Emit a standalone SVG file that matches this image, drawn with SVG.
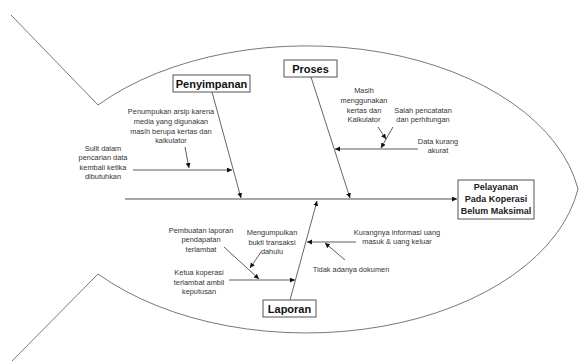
<svg xmlns="http://www.w3.org/2000/svg" width="579" height="361" viewBox="0 0 579 361">
<style>
.outline{fill:none;stroke:#555;stroke-width:0.8}
.bone{fill:none;stroke:#555;stroke-width:0.9}
.spine{fill:none;stroke:#8a8a8a;stroke-width:1.6}
.sub{fill:none;stroke:#333;stroke-width:0.8}
.box{fill:#fff;stroke:#555;stroke-width:1}
.lbl{font-family:"Liberation Sans",Arial,sans-serif;font-weight:bold;font-size:11px;fill:#111;text-anchor:middle}
.eff{font-family:"Liberation Sans",Arial,sans-serif;font-weight:bold;font-size:9px;fill:#222;text-anchor:middle}
.t{font-family:"Liberation Sans",Arial,sans-serif;font-size:7.4px;fill:#333;text-anchor:middle}
</style>
<defs>
<marker id="ah" markerUnits="userSpaceOnUse" markerWidth="6" markerHeight="6" refX="5" refY="2.5" orient="auto">
<path d="M0,0 L5,2.5 L0,5 z" fill="#111"/>
</marker>
</defs>
<g id="fish-outline">
<path class="outline" d="M11,15 L98,105 A275,170 0 0 1 578,189"/>
<path class="outline" d="M12,361 L98,274 A275,170 0 0 0 578,189"/>
</g>
<g id="connectors">
<line class="spine" x1="125" y1="199" x2="457" y2="199" marker-end="url(#ah)"/>
<line class="bone" x1="212" y1="92" x2="241" y2="198" marker-end="url(#ah)"/>
<line class="bone" x1="311" y1="77" x2="350" y2="198" marker-end="url(#ah)"/>
<line class="bone" x1="290" y1="300" x2="317" y2="201" marker-end="url(#ah)"/>
<line class="sub" x1="133" y1="170" x2="232" y2="170" marker-end="url(#ah)"/>
<line class="sub" x1="185" y1="147" x2="189" y2="168" marker-end="url(#ah)"/>
<line class="sub" x1="418" y1="149" x2="335" y2="149" marker-end="url(#ah)"/>
<line class="sub" x1="393" y1="127" x2="381" y2="148" marker-end="url(#ah)"/>
<line class="sub" x1="378" y1="127" x2="386" y2="139" marker-end="url(#ah)"/>
<line class="sub" x1="356" y1="242" x2="307" y2="242" marker-end="url(#ah)"/>
<line class="sub" x1="345" y1="260" x2="325" y2="243" marker-end="url(#ah)"/>
<line class="sub" x1="224" y1="247" x2="259" y2="279" marker-end="url(#ah)"/>
<line class="sub" x1="261" y1="252" x2="250" y2="268" marker-end="url(#ah)"/>
<line class="sub" x1="229" y1="280" x2="295" y2="280" marker-end="url(#ah)"/>
</g>
<g id="effect">
<rect class="box" x="458" y="180" width="76" height="39"/>
<text class="eff" x="496" y="190">Pelayanan</text>
<text class="eff" x="496" y="202">Pada Koperasi</text>
<text class="eff" x="496" y="214">Belum Maksimal</text>
</g>
<g id="penyimpanan">
<rect class="box" x="173" y="75" width="77" height="17"/>
<text class="lbl" x="211.5" y="87.5">Penyimpanan</text>
</g>
<g id="proses">
<rect class="box" x="284" y="60" width="53" height="17"/>
<text class="lbl" x="310.5" y="72.5">Proses</text>
</g>
<g id="laporan">
<rect class="box" x="263" y="300" width="53" height="17"/>
<text class="lbl" x="289.5" y="312.5">Laporan</text>
</g>
<g id="cause-sulit">
<text class="t" x="103" y="150.6">Sulit dalam</text>
<text class="t" x="103" y="160.2">pencarian data</text>
<text class="t" x="103" y="169.8">kembali ketika</text>
<text class="t" x="103" y="179.4">dibutuhkan</text>
</g>
<g id="cause-penumpukan">
<text class="t" x="171" y="114.3">Penumpukan arsip karena</text>
<text class="t" x="171" y="123.9">media yang digunakan</text>
<text class="t" x="171" y="133.5">masih berupa kertas dan</text>
<text class="t" x="171" y="143.1">kalkulator</text>
</g>
<g id="cause-masih">
<text class="t" x="364" y="93.3">Masih</text>
<text class="t" x="364" y="102.9">menggunakan</text>
<text class="t" x="364" y="112.5">kertas dan</text>
<text class="t" x="364" y="122.1">Kalkulator</text>
</g>
<g id="cause-salah">
<text class="t" x="423" y="112.6">Salah pencatatan</text>
<text class="t" x="423" y="122.2">dan perhitungan</text>
</g>
<g id="cause-data">
<text class="t" x="438" y="143.6">Data kurang</text>
<text class="t" x="438" y="153.2">akurat</text>
</g>
<g id="cause-pembuatan">
<text class="t" x="201" y="232.6">Pembuatan laporan</text>
<text class="t" x="201" y="242.2">pendapatan</text>
<text class="t" x="201" y="251.8">terlambat</text>
</g>
<g id="cause-mengumpulkan">
<text class="t" x="272" y="234.9">Mengumpulkan</text>
<text class="t" x="272" y="244.5">bukti transaksi</text>
<text class="t" x="272" y="254.1">dahulu</text>
</g>
<g id="cause-ketua">
<text class="t" x="199" y="274.9">Ketua koperasi</text>
<text class="t" x="199" y="284.5">terlambat ambil</text>
<text class="t" x="199" y="294.1">keputusan</text>
</g>
<g id="cause-kurangnya">
<text class="t" x="397" y="234.6">Kurangnya informasi uang</text>
<text class="t" x="397" y="244.2">masuk &amp; uang keluar</text>
</g>
<g id="cause-tidak">
<text class="t" x="351" y="272">Tidak adanya dokumen</text>
</g>
</svg>
